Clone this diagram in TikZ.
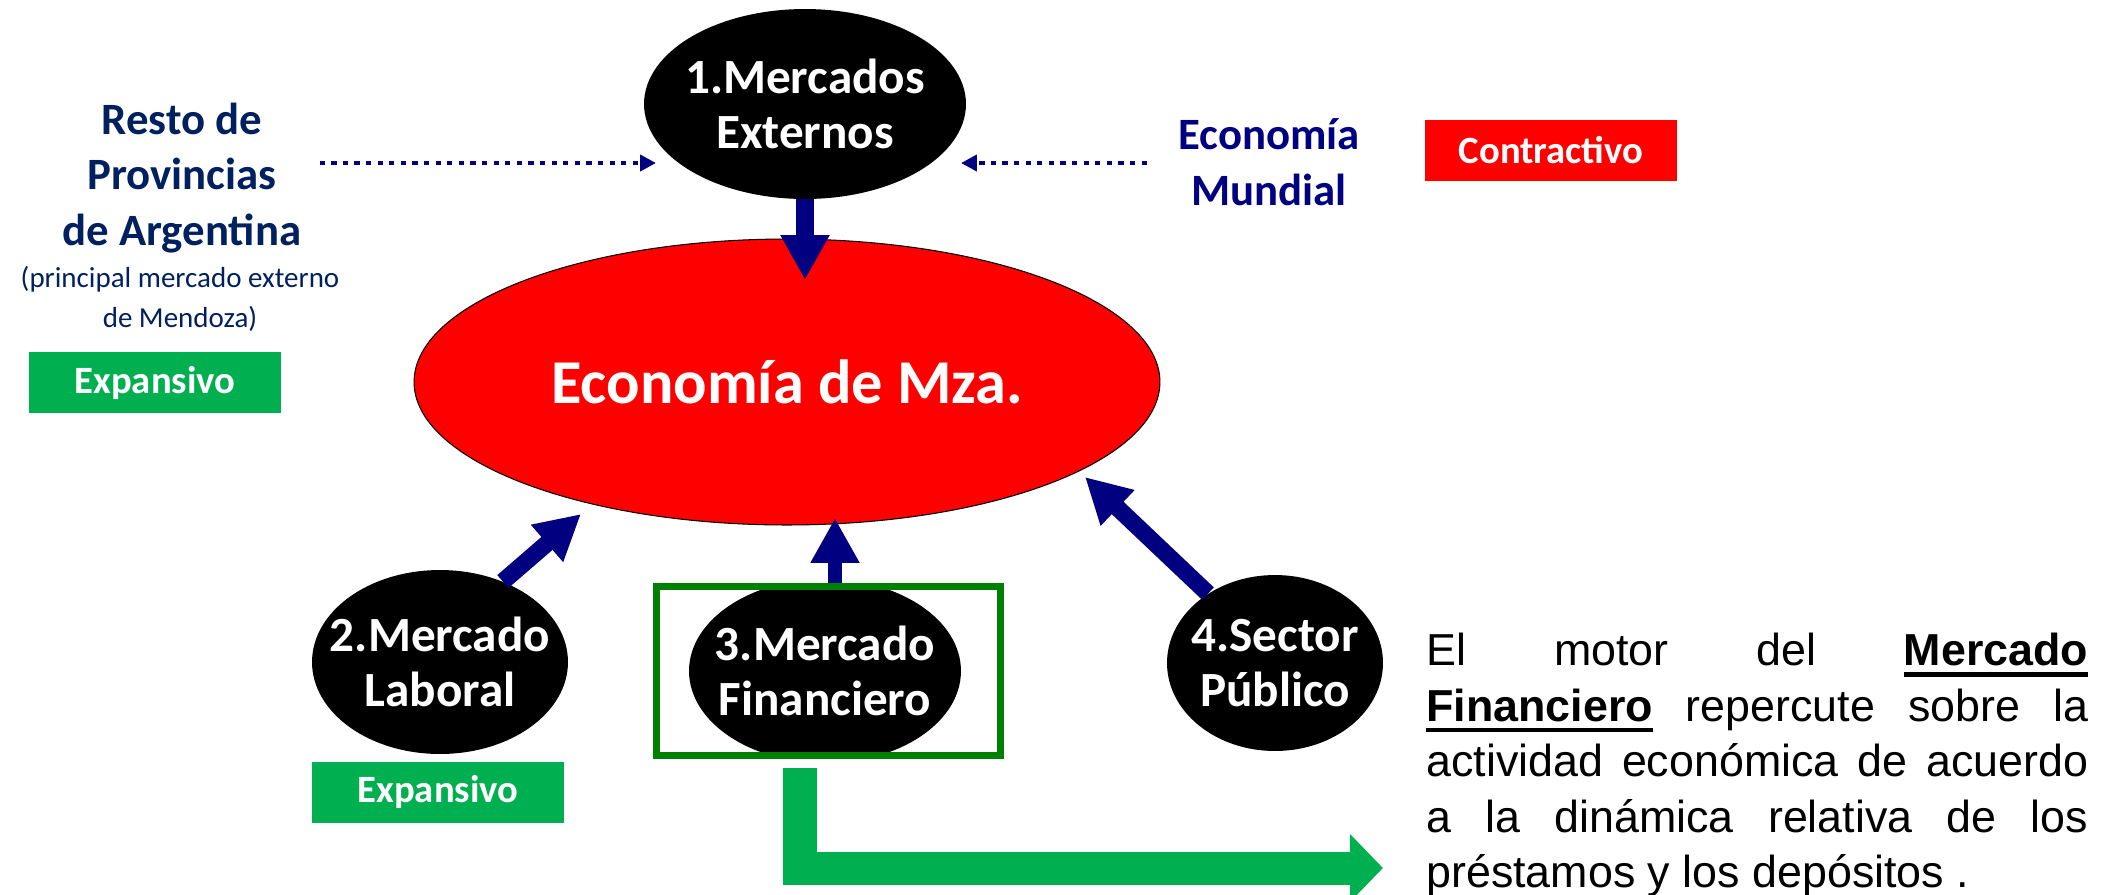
\documentclass[tikz,border=0pt]{standalone}
\usepackage{fontspec}
\setmainfont{Carlito}
\newfontfamily\arialfont{Liberation Sans}
\newcommand{\thickul}[1]{\leavevmode\vtop{\hbox{#1}\kern3.5pt\hrule height 2.5pt}}
\usetikzlibrary{arrows.meta,shapes.geometric}
\definecolor{navyarrow}{RGB}{0,0,128}
\definecolor{navytext}{RGB}{0,32,96}
\definecolor{mzared}{RGB}{255,0,0}
\definecolor{expgreen}{RGB}{0,176,80}
\definecolor{framegreen}{RGB}{0,128,0}

\begin{document}
\begin{tikzpicture}[x=0.02cm,y=-0.02cm,
   blackell/.style={ellipse,fill=black,inner sep=0pt},
   elltxt/.style={text=white,font=\bfseries\fontsize{28}{31.5}\selectfont,align=center,inner sep=0pt},
   side/.style={text=navytext,font=\bfseries\fontsize{25.5}{31.6}\selectfont,align=center,inner sep=0pt},
   tag/.style={text=white,font=\bfseries\fontsize{22}{26}\selectfont,minimum width=5.04cm,minimum height=1.22cm,inner sep=0pt},
   thickarrow/.style={navyarrow,line width=9.7pt,-{Triangle[length=25.6pt,width=26.2pt]}},
   dotarrow/.style={navyarrow,line width=2.8pt,dash pattern=on 3pt off 3.6pt,-{Triangle[length=9pt,width=9pt]}},
   greenarrow/.style={expgreen,line width=18.8pt,line join=miter,-{Triangle[length=18.8pt,width=37.6pt]}}]
\useasboundingbox (0,0) rectangle (2114,894);
% centre of the scheme
\node[ellipse,draw=black,line width=0.6pt,fill=mzared,inner sep=0pt,minimum width=14.92cm,minimum height=5.72cm,
   text=white,font=\bfseries\fontsize{35.5}{40}\selectfont] (mza) at (787,382) {Economía de Mza.};
% the four markets
\node[blackell,minimum width=6.44cm,minimum height=3.8cm] (m1) at (805,104) {};
\node[elltxt] (m1t) at (m1) {1.Mercados\\Externos};
\node[blackell,minimum width=5.12cm,minimum height=3.68cm] (m2) at (440,662) {};
\node[elltxt] (m2t) at (m2) {2.Mercado\\Laboral};
\begin{scope}
  \clip (660,590) rectangle (997,752);
  \node[blackell,minimum width=5.44cm,minimum height=3.68cm] (m3) at (825,671) {};
\end{scope}
\node[elltxt] (m3t) at (m3) {3.Mercado\\Financiero};
\node[draw=framegreen,line width=4pt,minimum width=6.88cm,minimum height=3.38cm,inner sep=0pt] (fbox) at (828.5,671) {};
\node[blackell,minimum width=4.32cm,minimum height=3.52cm] (m4) at (1275,663) {};
\node[elltxt] (m4t) at (m4) {4.Sector\\Público};
% outside influences
\node[side] (resto) at (182,178) {Resto de\\Provincias\\de Argentina};
\node[text=navytext,font=\fontsize{16.5}{23}\selectfont,align=center,inner sep=0pt] (note) at (180,299) {(principal mercado externo\\de Mendoza)};
\node[side,text=navyarrow] (mundial) at (1269,162) {Economía\\Mundial};
% signs
\node[tag,fill=expgreen] (exp1) at (155,382.5) {Expansivo};
\node[tag,fill=mzared] (contr) at (1551,150) {Contractivo};
\node[tag,fill=expgreen] (exp2) at (438,792) {Expansivo};
% comment on the financial market
\node[anchor=north west,inner sep=0pt,text width=13.24cm,align=justify,
   font=\arialfont\fontsize{25.5}{31.6}\selectfont] (motor) at (1426,633)
   {\tolerance=10000\hyphenpenalty=10000 El motor del \thickul{\textbf{Mercado}}\linebreak
    \thickul{\textbf{Financiero}} repercute sobre la\linebreak actividad económica de acuerdo\linebreak
    a la dinámica relativa de los\linebreak préstamos y los depósitos .};
% arrows
\coordinate (dltip) at (656,163);
\coordinate (drtip) at (961,163);
\draw[dotarrow,shorten <=0.36cm] (resto.east |- dltip) -- (dltip);
\draw[dotarrow,shorten <=0.62cm] (mundial.west |- drtip) -- (drtip);
\coordinate (a1tip) at (805,280);
\coordinate (a2tip) at (581,514);
\coordinate (a3tip) at (835,518);
\coordinate (a4tip) at (1085,477);
\draw[thickarrow] (m1.south) -- (a1tip);
\draw[thickarrow] (m2.52) -- (a2tip);
\draw[thickarrow,line width=8.5pt] (a3tip |- fbox.north) -- (a3tip);
\draw[thickarrow] (m4.134) -- (a4tip);
\coordinate (gtip) at (1383,868);
\draw[greenarrow] ([xshift=-0.57cm,yshift=-0.18cm]fbox.south) |- (gtip);
\end{tikzpicture}
\end{document}
